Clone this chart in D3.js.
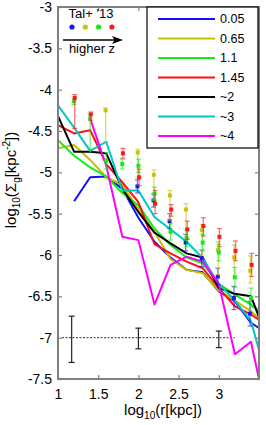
<!DOCTYPE html>
<html>
<head>
<meta charset="utf-8">
<script src="https://cdn.jsdelivr.net/npm/d3@7"></script>
<style>
body{margin:0;background:#fff;}
text{font-family:"Liberation Sans",Arial,Helvetica,sans-serif;}
</style>
</head>
<body>
<svg id="chart"></svg>
<script>
// gas surface density profiles

w=266;
h=425;
var svg=d3.select("#chart").attr("width",w).attr("height",h);

// data

simX=[1.0,1.2,1.4,1.6,1.8,2.0,2.2,2.4,2.6,2.8,3.0,3.2,3.4,3.6];
z005=[null,-5.35,-5.06,-5.05,-5.20,-5.55,-5.84,-6.03,-6.18,-6.21,-6.44,-6.56,-6.82,-6.95];
z065=[-4.71,-4.67,-4.85,-5.06,-5.15,-5.45,-5.72,-6.05,-6.18,-6.22,-6.43,-6.55,-6.68,-6.85];
z11=[-4.61,-4.80,-4.94,-5.05,-5.25,-5.40,-5.68,-5.88,-6.03,-6.10,-6.35,-6.48,-6.60,-6.75];
z145=[-4.43,-4.53,-4.49,-4.90,-5.12,-5.36,-5.87,-5.98,-6.08,-6.16,-6.40,-6.62,-6.72,-6.85];
z2=[-4.32,-4.75,-4.75,-4.77,-5.20,-5.48,-5.73,-5.86,-5.98,-6.03,-6.40,-6.47,-6.50,-7.00];
z3=[-4.19,-4.46,-4.74,-4.63,-5.22,-5.22,-5.54,-5.69,-5.84,-6.04,-6.35,-6.55,-6.80,-7.50];
z4=[null,null,-4.35,-4.92,-5.78,-5.82,-6.60,-6.12,-6.02,-6.08,-6.35,-7.20,-7.05,-7.95];
simLabels=["0.05","0.65","1.1","1.45","~2","~3","~4"];
simColors=["#1010ff","#c4c000","#10f010","#ff1010","#000000","#00c8c8","#ff00ff"];

// Tal+13 observations
obsX=[1.2,1.4,1.6,1.8,2.0,2.2,2.4,2.6,2.8,3.0,3.2,3.4];
obsBlue=[null,null,null,null,-5.17,-5.34,-5.59,-5.85,-6.04,-6.26,-6.52,-6.71];
obsBlueUp=[0,0,0,0,0.08,0.08,0.09,0.1,0.1,0.1,0.14,0.15];
obsBlueDn=[0,0,0,0,0.08,0.08,0.09,0.1,0.1,0.1,0.14,0.15];
obsOlive=[null,null,-4.25,null,-4.76,-5.03,-5.28,-5.45,-5.70,-5.94,-6.03,-6.19];
obsOliveUp=[0,0,0.03,0,0.04,0.06,0.06,0.07,0.07,0.1,0.15,0.18];
obsOliveDn=[0,0,0.38,0,0.3,0.3,0.3,0.33,0.3,0.3,0.23,0.15];
obsGreen=[-4.14,-4.35,-4.86,-4.90,-4.92,-5.26,-5.72,-5.80,-5.85,-5.97,-6.27,-6.52];
obsGreenUp=[0.04,0.05,0.1,0.06,0.08,0.08,0.1,0.1,0.1,0.1,0.12,0.12];
obsGreenDn=[0.04,0.38,0.1,0.06,0.08,0.08,0.1,0.1,0.1,0.1,0.12,0.12];
obsRed=[-4.10,-4.30,null,-4.77,-5.06,-5.38,-5.45,-5.69,-5.65,-5.78,-5.95,-6.12];
obsRedUp=[0.04,0.03,0,0.06,0.1,0.16,0.06,0.1,0.1,0.1,0.12,0.14];
obsRedDn=[0.37,0.07,0,0.06,0.1,0.12,0.08,0.12,0.12,0.12,0.12,0.14];
obsColors=["#1a1aee","#c8c400","#18e818","#ff1818"];
obsShift=[-0.012,-0.008,0,0.008];

// typical errors
errX=[1.17,2.0,3.0];
errY=[-7.02,-7.01,-7.02];
errD=[0.28,0.125,0.1];

xTicks=[1,1.5,2,2.5,3];
yTicks=[-3,-3.5,-4,-4.5,-5,-5.5,-6,-6.5,-7,-7.5];

// scales

var x=d3.scaleLinear().domain([1,3.5]).range([58,259]);
var y=d3.scaleLinear().domain([-7.5,-3]).range([379,7]);

svg.append("clipPath").attr("id","clip").append("rect")
	.attr("x",58).attr("y",7).attr("width",201).attr("height",372);

// dotted line and typical error bars

svg.append("line")
	.attr("x1",x(1.05)).attr("x2",x(3.2)).attr("y1",y(-7)).attr("y2",y(-7))
	.style("stroke","#555").style("stroke-width",1.2).style("stroke-dasharray","2 1.5");

var gErr=svg.selectAll(".err").data(errX).enter().append("g");
gErr.append("line")
	.attr("x1",function(d) {return x(d);}).attr("x2",function(d) {return x(d);})
	.attr("y1",function(d,i) {return y(errY[i]+errD[i]);})
	.attr("y2",function(d,i) {return y(errY[i]-errD[i]);})
	.style("stroke","#222").style("stroke-width",1.2);
[1,-1].forEach(function(s) {
	gErr.append("line")
		.attr("x1",function(d) {return x(d)-3;}).attr("x2",function(d) {return x(d)+3;})
		.attr("y1",function(d,i) {return y(errY[i]+s*errD[i]);})
		.attr("y2",function(d,i) {return y(errY[i]+s*errD[i]);})
		.style("stroke","#222").style("stroke-width",1.2);
});

// simulation lines

var sims=[z005,z065,z11,z145,z2,z3,z4];
var line=d3.line()
	.defined(function(d) {return d[1]!=null;})
	.x(function(d) {return x(d[0]);})
	.y(function(d) {return y(d[1]);});

var gLines=svg.append("g").attr("clip-path","url(#clip)");
gLines.selectAll(".sim").data(sims).enter().append("path")
	.attr("d",function(s) {return line(s.map(function(v,i) {return [simX[i],v];}));})
	.style("fill","none")
	.style("stroke",function(d,i) {return simColors[i];})
	.style("stroke-width",2)
	.style("stroke-linejoin","round");

// observations

var obs=[
	{y:obsBlue,up:obsBlueUp,dn:obsBlueDn},
	{y:obsOlive,up:obsOliveUp,dn:obsOliveDn},
	{y:obsGreen,up:obsGreenUp,dn:obsGreenDn},
	{y:obsRed,up:obsRedUp,dn:obsRedDn}
];
obs.forEach(function(o,k) {
	var pts=[];
	o.y.forEach(function(v,i) {if(v!=null) pts.push({x:obsX[i]+obsShift[k],y:v,up:o.up[i],dn:o.dn[i]});});
	var g=svg.append("g").selectAll("g").data(pts).enter().append("g")
		.style("stroke",obsColors[k]);
	g.append("line")
		.attr("x1",function(d) {return x(d.x);}).attr("x2",function(d) {return x(d.x);})
		.attr("y1",function(d) {return y(d.y+d.up);}).attr("y2",function(d) {return y(d.y-d.dn);})
		.style("stroke-width",1.3).style("opacity",0.6);
	g.append("line")
		.attr("x1",function(d) {return x(d.x)-2.5;}).attr("x2",function(d) {return x(d.x)+2.5;})
		.attr("y1",function(d) {return y(d.y+d.up);}).attr("y2",function(d) {return y(d.y+d.up);})
		.style("stroke-width",1.2).style("opacity",0.6);
	g.append("line")
		.attr("x1",function(d) {return x(d.x)-2.5;}).attr("x2",function(d) {return x(d.x)+2.5;})
		.attr("y1",function(d) {return y(d.y-d.dn);}).attr("y2",function(d) {return y(d.y-d.dn);})
		.style("stroke-width",1.2).style("opacity",0.6);
	g.append("rect")
		.attr("x",function(d) {return x(d.x)-2;}).attr("y",function(d) {return y(d.y)-2;})
		.attr("width",4).attr("height",4)
		.style("stroke","none").style("fill",obsColors[k]);
});

// axes

var axCol="#808080";
function styleAxis(g) {
	g.select(".domain").remove();
	g.selectAll(".tick line").style("stroke",axCol).style("stroke-width",1.2);
	g.selectAll("text").style("font-size","14px").style("fill","#000")
		.style("font-family","'Liberation Sans',Arial,sans-serif");
}
svg.append("g").attr("transform","translate(0,379)")
	.call(d3.axisBottom(x).tickValues(xTicks).tickSize(-4).tickPadding(10).tickFormat(function(d) {return String(d);}))
	.call(styleAxis);
svg.append("g").attr("transform","translate(0,7)")
	.call(d3.axisTop(x).tickValues(xTicks).tickSize(-4).tickFormat(""))
	.call(styleAxis);
svg.append("g").attr("transform","translate(58,0)")
	.call(d3.axisLeft(y).tickValues(yTicks).tickSize(-4).tickPadding(6).tickFormat(function(d) {return String(d);}))
	.call(styleAxis);
svg.append("g").attr("transform","translate(259,0)")
	.call(d3.axisRight(y).tickValues(yTicks).tickSize(-4).tickFormat(""))
	.call(styleAxis);
svg.append("rect").attr("x",58).attr("y",7).attr("width",201).attr("height",372)
	.style("fill","none").style("stroke",axCol).style("stroke-width",2);

// axis labels

var yl=svg.append("text").attr("transform","translate(16,180) rotate(-90)")
	.attr("text-anchor","middle").style("font-size","15px");
yl.append("tspan").text("log");
yl.append("tspan").attr("dy",4).style("font-size","10px").text("10");
yl.append("tspan").attr("dy",-4).text("(Σ");
yl.append("tspan").attr("dy",4).style("font-size","10px").text("g");
yl.append("tspan").attr("dy",-4).text("[kpc");
yl.append("tspan").attr("dy",-6).style("font-size","10px").text("-2");
yl.append("tspan").attr("dy",6).text("])");

var xl=svg.append("text").attr("x",163).attr("y",415)
	.attr("text-anchor","middle").style("font-size","15px");
xl.append("tspan").text("log");
xl.append("tspan").attr("dy",4).style("font-size","10px").text("10");
xl.append("tspan").attr("dy",-4).text("(r[kpc])");

// legend

var lg=svg.append("g");
lg.append("rect").attr("x",147).attr("y",7).attr("width",111).attr("height",141)
	.style("fill","#fff").style("stroke","#000").style("stroke-width",1.2);
var rows=lg.selectAll(".row").data(simLabels).enter().append("g")
	.attr("transform",function(d,i) {return "translate(0,"+(19+i*19.5)+")";});
rows.append("line").attr("x1",158).attr("x2",215).attr("y1",0).attr("y2",0)
	.style("stroke",function(d,i) {return simColors[i];}).style("stroke-width",2);
rows.append("text").attr("x",220).attr("y",0).attr("dy","0.35em")
	.style("font-size","12.5px").text(function(d) {return d;});

// Tal+13 annotation

svg.append("text").attr("x",91).attr("y",18).attr("text-anchor","middle")
	.style("font-size","13px").text("Tal+ '13");
svg.selectAll(".dot").data(obsColors).enter().append("circle")
	.attr("cx",function(d,i) {return 72+i*13.3;}).attr("cy",27).attr("r",2.6)
	.style("fill",function(d) {return d;});
svg.append("line").attr("x1",63).attr("x2",116).attr("y1",40).attr("y2",40)
	.style("stroke","#000").style("stroke-width",1.5);
svg.append("path").attr("d","M 123 40 L 112 36 L 114.5 40 L 112 44 Z").style("fill","#000");
svg.append("text").attr("x",92).attr("y",53).attr("text-anchor","middle")
	.style("font-size","13px").text("higher z");
</script>
</body>
</html>
